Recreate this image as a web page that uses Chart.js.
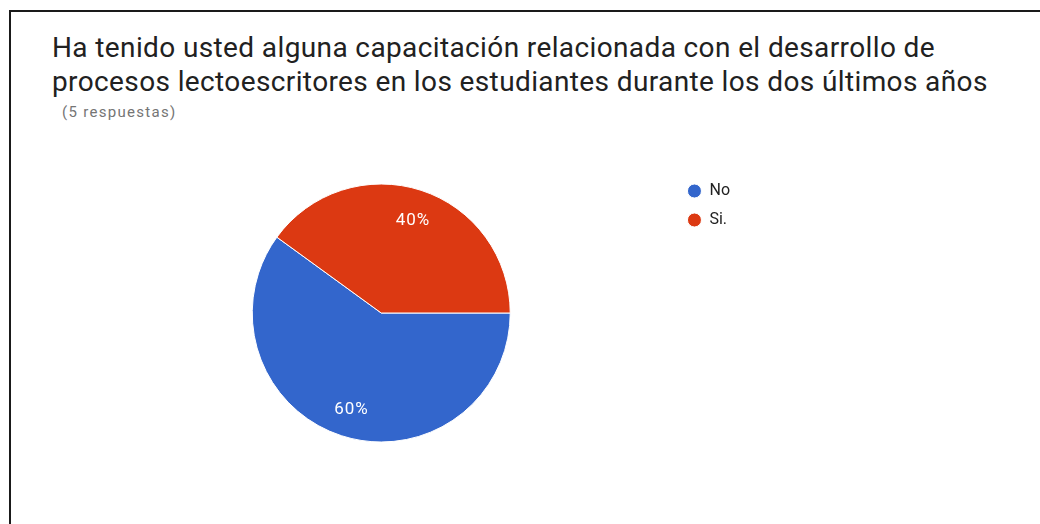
<!DOCTYPE html>
<html>
<head>
<meta charset="utf-8">
<script src="https://cdn.jsdelivr.net/npm/chart.js@4"></script>
<style>
    html, body { margin: 0; padding: 0; background: #fff; overflow: hidden; }
    #frame {
        position: absolute; left: 9px; top: 10px;
        width: 1100px; height: 600px;
        border: 2px solid #1a1a1a; box-sizing: border-box;
    }
    #title {
        position: absolute; left: 52px; top: 31px;
        font: 28px Roboto, sans-serif; line-height: 34px; letter-spacing: 0.38px;
        color: #212121; white-space: nowrap;
    }
    #subtitle {
        position: absolute; left: 62px; top: 102px;
        font: 15px Roboto, sans-serif; line-height: 20px; letter-spacing: 1.3px;
        color: #757575; white-space: nowrap;
    }
    #graph { position: absolute; left: 0; top: 130px; width: 1040px; height: 394px; }
</style>
</head>
<body>
<div id="frame"></div>
<div id="title">Ha tenido usted alguna capacitación relacionada con el desarrollo de<br>procesos lectoescritores en los estudiantes durante los dos últimos años</div>
<div id="subtitle">(5 respuestas)</div>
<div id="graph"><canvas id="pie" width="1040" height="394"></canvas></div>
<script>
var labels = ["No", "Si."];
var counts = [3, 2];
var colors = ['#3366cc', '#dc3912'];

// percentage text inside each slice
var sliceLabels = {
    id: 'sliceLabels',
    afterDatasetsDraw: function (chart) {
        var ctx = chart.ctx;
        var meta = chart.getDatasetMeta(0);
        var total = counts.reduce(function (a, b) { return a + b; }, 0);
        ctx.save();
        ctx.fillStyle = '#fff';
        ctx.font = '17px Roboto, sans-serif';
        if ('letterSpacing' in ctx) ctx.letterSpacing = '1px';
        ctx.textAlign = 'center';
        ctx.textBaseline = 'middle';
        meta.data.forEach(function (arc, i) {
            var p = arc.getProps(['x', 'y', 'startAngle', 'endAngle', 'outerRadius'], true);
            var mid = (p.startAngle + p.endAngle) / 2;
            var r = p.outerRadius * 0.77;
            var pct = Math.round(counts[i] / total * 100) + '%';
            ctx.fillText(pct, p.x + Math.cos(mid) * r + 1, p.y + Math.sin(mid) * r + 2);
        });
        ctx.restore();
    }
};

var ctx = document.getElementById('pie').getContext('2d');
var chart = new Chart(ctx, {
    type: 'pie',
    data: {
        labels: labels,
        datasets: [{
            data: counts,
            backgroundColor: colors,
            borderColor: '#fff',
            borderWidth: 1,
            radius: 129
        }]
    },
    options: {
        responsive: false,
        animation: false,
        rotation: 90,
        layout: { padding: { left: 88, top: 40, bottom: 68, right: 300 } },
        plugins: {
            tooltip: { enabled: false },
            legend: {
                position: 'right',
                align: 'start',
                labels: {
                    boxWidth: 14,
                    boxHeight: 14,
                    useBorderRadius: true,
                    borderRadius: 7,
                    padding: 13,
                    color: '#222',
                    font: { family: 'Roboto', size: 16 }
                }
            }
        }
    },
    plugins: [sliceLabels]
});
</script>
</body>
</html>
